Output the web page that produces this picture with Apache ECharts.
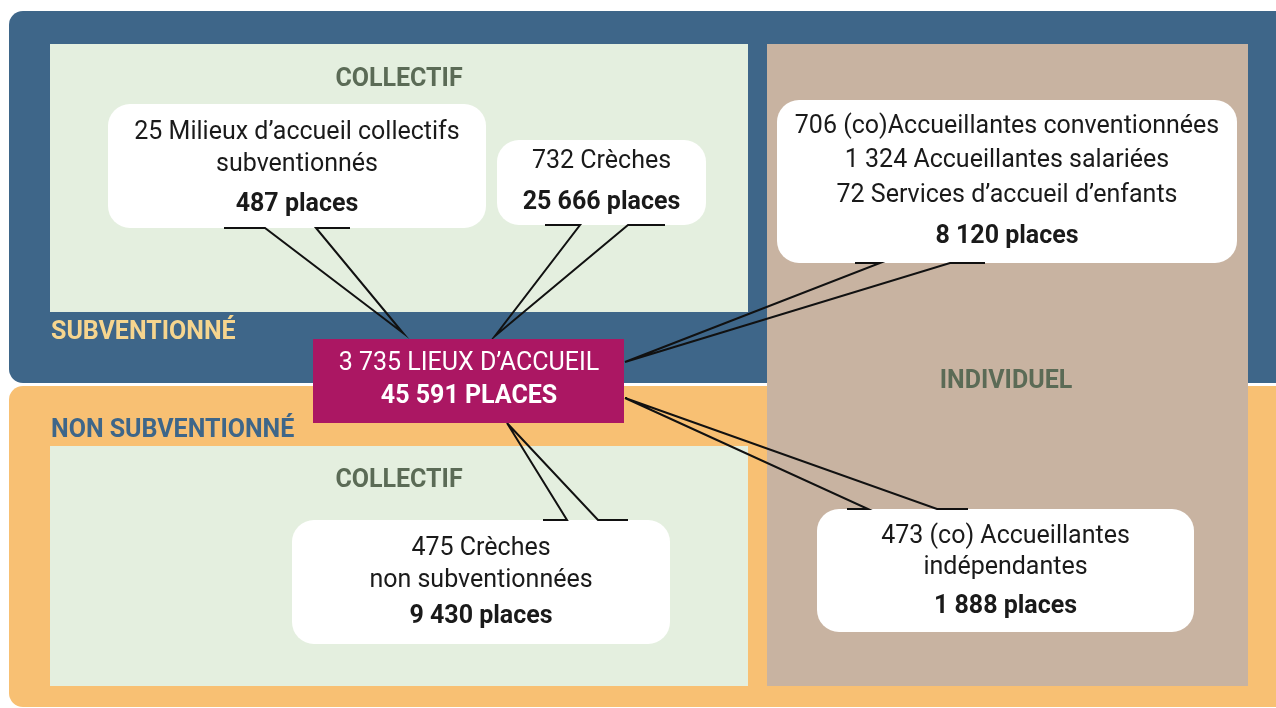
<!DOCTYPE html>
<html>
<head>
<meta charset="utf-8">
<script src="https://cdn.jsdelivr.net/npm/echarts@6/dist/echarts.min.js"></script>
<style>
  html, body { margin: 0; padding: 0; background: #fff; }
  #chart { width: 1276px; height: 708px; }
</style>
</head>
<body>
<div id="chart"></div>
<script>
// data
const sectionLabels = ['SUBVENTIONNÉ', 'NON SUBVENTIONNÉ'];
const groupLabels = ['COLLECTIF', 'COLLECTIF', 'INDIVIDUEL'];
const totalPlaces = '3 735 LIEUX D\u2019ACCUEIL';
const totalSeats = '45 591 PLACES';
const boxLines = [
  ['25 Milieux d\u2019accueil collectifs', 'subventionnés'],
  ['732 Crèches'],
  ['706 (co)Accueillantes conventionnées', '1 324 Accueillantes salariées', '72 Services d\u2019accueil d\u2019enfants'],
  ['475 Crèches', 'non subventionnées'],
  ['473 (co) Accueillantes', 'indépendantes']
];
const boxPlaces = ['487 places', '25 666 places', '8 120 places', '9 430 places', '1 888 places'];

// layout (pixels)
const boxRects = [
  [108, 104, 378, 124],
  [497, 140, 209, 85],
  [777, 100, 460, 163],
  [292, 520, 378, 124],
  [817, 509, 377, 123]
];
const boxLineY = [
  [133, 165, 205],
  [162, 203],
  [127, 161, 196, 237],
  [549, 581, 617],
  [537, 568, 607]
];
// connectors: two stubs on the box edge joined to one apex on the central box
const connectors = [
  { y: 228, a: 224, b: 265, c: 316, d: 350, apex: [403, 333] },
  { y: 225, a: 545, b: 580, c: 628, d: 665, apex: [495, 336] },
  { y: 263, a: 855, b: 880, c: 950, d: 985, apex: [625, 362] },
  { y: 520, a: 543, b: 567, c: 598, d: 628, apex: [507, 423] },
  { y: 509, a: 847, b: 868, c: 937, d: 968, apex: [625, 398] }
];

const FONT = 'Roboto, "Noto Sans", sans-serif';
const elements = [];

function rect(x, y, w, h, fill, r) {
  elements.push({ type: 'rect', shape: { x, y, width: w, height: h, r: r || 0 }, style: { fill } });
}
function text(str, x, y, size, weight, fill, align) {
  elements.push({
    type: 'text',
    style: {
      text: str, x, y, fill,
      fontSize: size, fontWeight: weight, fontFamily: FONT,
      textAlign: align || 'center', textVerticalAlign: 'middle'
    }
  });
}

// panels
rect(9, 386, 1290, 321, '#f8c073', 14);
rect(9, 11, 1290, 372, '#3e6689', 14);
rect(50, 44, 698, 268, '#e4efdf');
rect(50, 446, 698, 240, '#e4efdf');
rect(767, 44, 481, 642, '#c8b3a1');

text(groupLabels[0], 399, 80, 25, 'bold', '#5b6b56');
text(groupLabels[1], 399, 481, 25, 'bold', '#5b6b56');
text(groupLabels[2], 1006, 382, 25, 'bold', '#5b6b56');
text(sectionLabels[0], 51, 333, 25, 'bold', '#f6d58e', 'left');
text(sectionLabels[1], 51, 431, 25, 'bold', '#3e6689', 'left');

// boxes
boxRects.forEach((b, i) => {
  rect(b[0], b[1], b[2], b[3], '#ffffff', 22);
  const cx = b[0] + b[2] / 2;
  const ys = boxLineY[i];
  boxLines[i].forEach((ln, j) => text(ln, cx, ys[j], 25, 'normal', '#1a1a1a'));
  text(boxPlaces[i], cx, ys[ys.length - 1], 25, 'bold', '#1a1a1a');
});

// connectors
connectors.forEach(c => {
  elements.push({
    type: 'polyline',
    shape: { points: [[c.a, c.y], [c.b, c.y], c.apex, [c.c, c.y], [c.d, c.y]] },
    style: { stroke: '#111', lineWidth: 2, fill: null }
  });
});

// central box
rect(313, 339, 311, 84, '#ab1763');
text(totalPlaces, 469, 364, 25, 'normal', '#ffffff');
text(totalSeats, 469, 397, 25, 'bold', '#ffffff');

const chart = echarts.init(document.getElementById('chart'));
chart.setOption({
  animation: false,
  graphic: { elements }
});
</script>
</body>
</html>
